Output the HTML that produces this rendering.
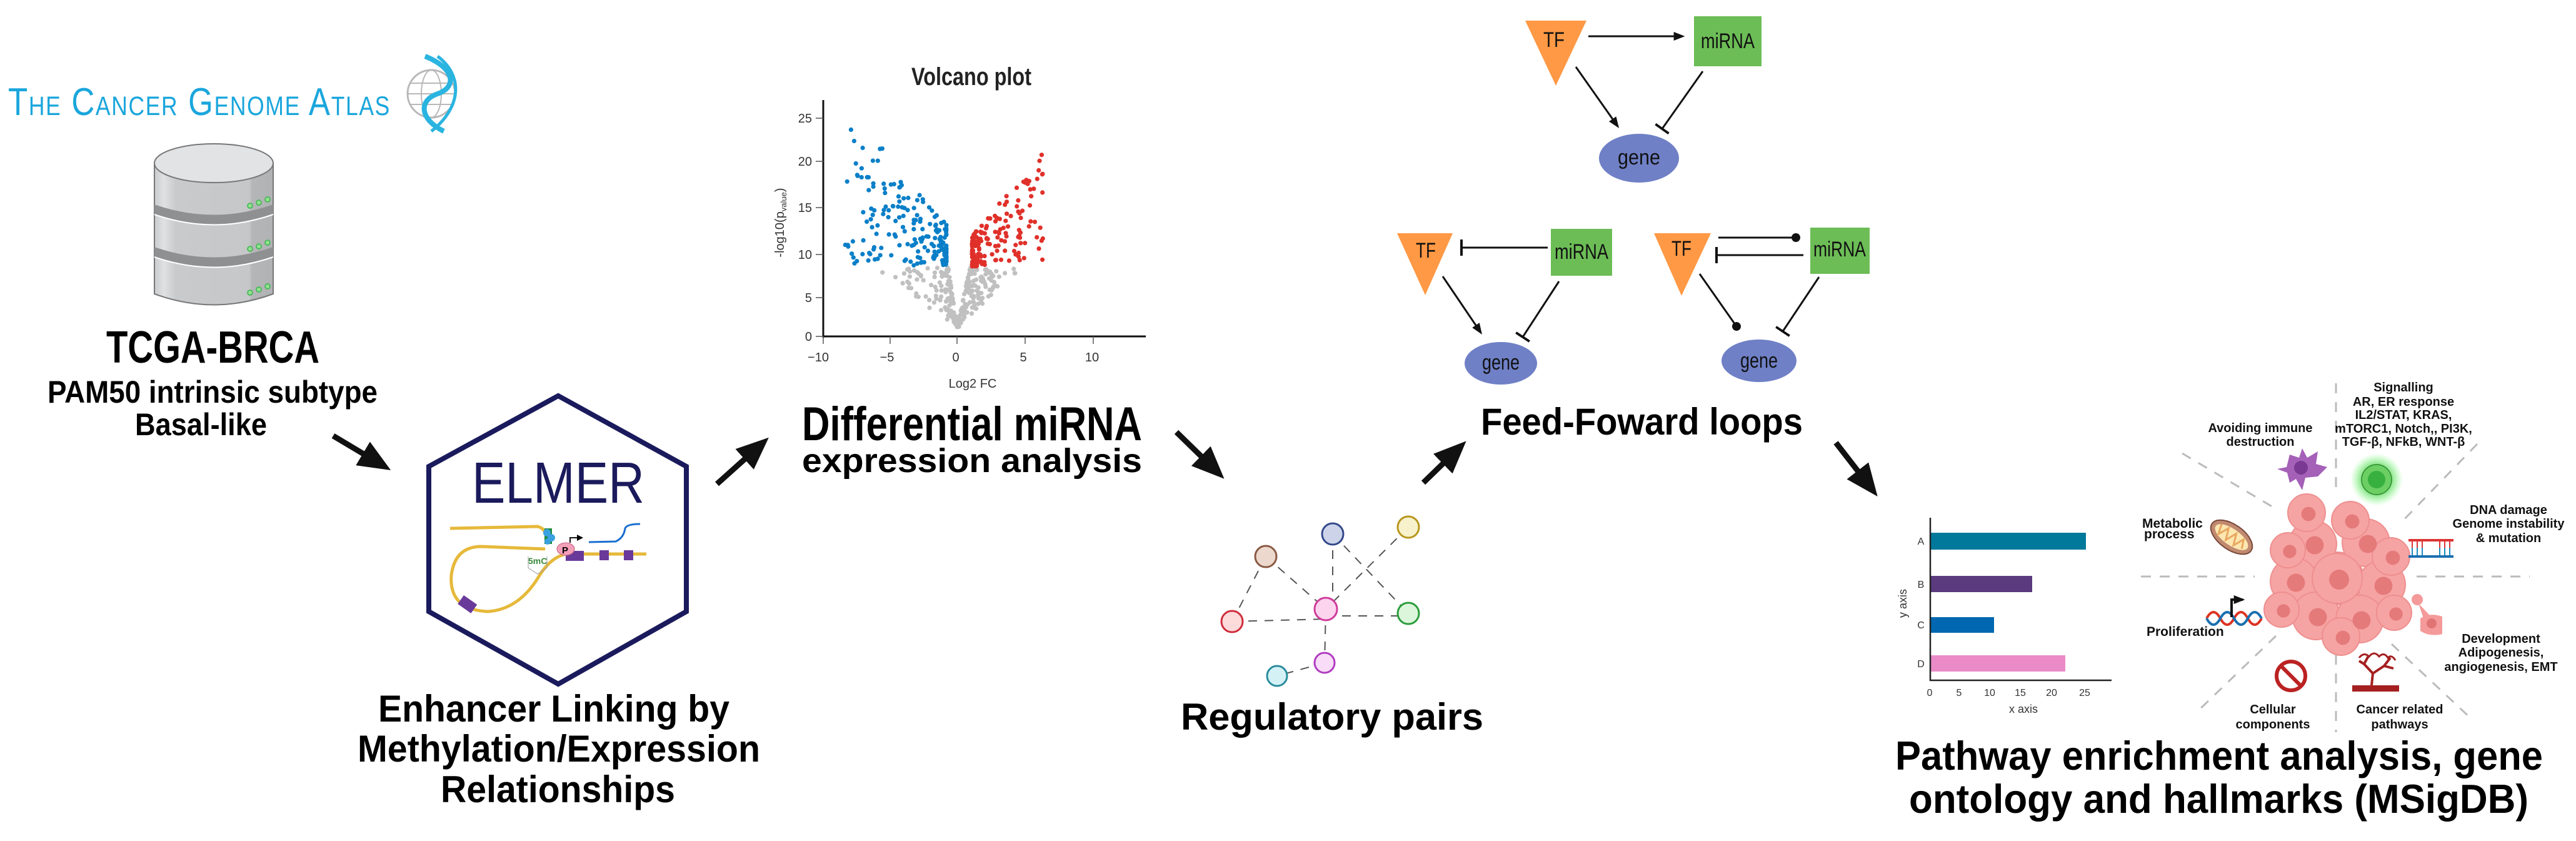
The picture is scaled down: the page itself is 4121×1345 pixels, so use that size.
<!DOCTYPE html>
<html><head><meta charset="utf-8"><style>
html,body{margin:0;padding:0;background:#fff;}
svg{display:block;}
text{font-family:"Liberation Sans",sans-serif;}
</style></head><body>
<svg id="s" width="4121" height="1345" viewBox="0 0 4121 1345" xmlns="http://www.w3.org/2000/svg">
<defs>
<marker id="ah" markerWidth="10" markerHeight="10" refX="2" refY="5" orient="auto" markerUnits="userSpaceOnUse" viewBox="0 0 10 10"><path d="M0,0 L10,5 L0,10 z" fill="#000"/></marker>
<marker id="big" viewBox="0 0 10 10" refX="1" refY="5" markerWidth="52" markerHeight="44" orient="auto" markerUnits="userSpaceOnUse" preserveAspectRatio="none"><path d="M0,0 L10,5 L0,10 z" fill="#111"/></marker>
<marker id="sm" viewBox="0 0 10 10" refX="8" refY="5" markerWidth="18" markerHeight="14" orient="auto" markerUnits="userSpaceOnUse" preserveAspectRatio="none"><path d="M0,0 L10,5 L0,10 z" fill="#111"/></marker>
<marker id="bar" viewBox="0 0 4 20" refX="2" refY="10" markerWidth="4" markerHeight="26" orient="auto" markerUnits="userSpaceOnUse" preserveAspectRatio="none"><rect x="0" y="0" width="4" height="20" fill="#111"/></marker>
<marker id="dot" viewBox="0 0 10 10" refX="5" refY="5" markerWidth="14" markerHeight="14" orient="auto" markerUnits="userSpaceOnUse"><circle cx="5" cy="5" r="5" fill="#111"/></marker>
<radialGradient id="glow"><stop offset="0.5" stop-color="#5fd35f" stop-opacity="0.9"/><stop offset="1" stop-color="#7fff7f" stop-opacity="0"/></radialGradient>
<linearGradient id="cyl" x1="0" x2="1"><stop offset="0" stop-color="#c9cbcd"/><stop offset="0.08" stop-color="#dfe1e3"/><stop offset="0.18" stop-color="#c8cacc"/><stop offset="0.8" stop-color="#c5c7c9"/><stop offset="0.82" stop-color="#b4b6b8"/><stop offset="1" stop-color="#b0b2b4"/></linearGradient>
</defs>

<!-- TCGA logo -->
<text x="13" y="184" font-family="Liberation Serif,serif" font-size="62" fill="#1aa6dc" textLength="612" lengthAdjust="spacingAndGlyphs" style="font-variant:small-caps;letter-spacing:2px">The Cancer Genome Atlas</text>
<g transform="translate(690,150)">
<circle cx="0" cy="0" r="38" fill="none" stroke="#b8b8b8" stroke-width="3"/>
<ellipse cx="0" cy="0" rx="16" ry="38" fill="none" stroke="#b8b8b8" stroke-width="2"/>
<line x1="-38" y1="0" x2="38" y2="0" stroke="#b8b8b8" stroke-width="2"/>
<line x1="-34" y1="-17" x2="34" y2="-17" stroke="#b8b8b8" stroke-width="2"/>
<line x1="-34" y1="17" x2="34" y2="17" stroke="#b8b8b8" stroke-width="2"/>
<path d="M-10,-60 C40,-40 40,-10 10,0 C-20,10 -20,40 20,60" fill="none" stroke="#2ab4e0" stroke-width="8"/>
<path d="M10,-60 C50,-30 50,20 0,60" fill="none" stroke="#2ab4e0" stroke-width="5"/>
</g>

<!-- database -->
<g>
<path d="M247,261 L247,470 Q342,505 437,470 L437,261 Z" fill="url(#cyl)" stroke="#777" stroke-width="2"/>
<path d="M247,327 Q342,360 437,327 L437,342 Q342,375 247,342 Z" fill="#8e9092"/>
<path d="M247,395 Q342,428 437,395 L437,410 Q342,443 247,410 Z" fill="#8e9092"/>
<path d="M247,343 Q342,376 437,343" fill="none" stroke="#fff" stroke-width="2"/>
<path d="M247,411 Q342,444 437,411" fill="none" stroke="#fff" stroke-width="2"/>
<ellipse cx="342" cy="261" rx="95" ry="31" fill="#e1e3e5" stroke="#777" stroke-width="2"/>
<g fill="#8fe08f" stroke="#3cb34a" stroke-width="1.5">
<circle cx="400" cy="329" r="4"/><circle cx="414" cy="324" r="4"/><circle cx="428" cy="319" r="4"/>
<circle cx="400" cy="398" r="4"/><circle cx="414" cy="394" r="4"/><circle cx="428" cy="388" r="4"/>
<circle cx="400" cy="468" r="4"/><circle cx="414" cy="463" r="4"/><circle cx="428" cy="458" r="4"/>
</g>
</g>
<text x="170" y="580" font-size="72" font-weight="bold" textLength="341" lengthAdjust="spacingAndGlyphs">TCGA-BRCA</text>
<text x="76" y="644" font-size="50" font-weight="bold" textLength="528" lengthAdjust="spacingAndGlyphs">PAM50 intrinsic subtype</text>
<text x="216" y="696" font-size="50" font-weight="bold" textLength="211" lengthAdjust="spacingAndGlyphs">Basal-like</text>

<!-- big arrows -->
<g stroke="#111" stroke-width="9" marker-end="url(#big)">
<line x1="533" y1="697" x2="585" y2="728"/>
<line x1="1147" y1="774" x2="1195" y2="731"/>
<line x1="1882" y1="691" x2="1925" y2="733"/>
<line x1="2277" y1="772" x2="2312" y2="738"/>
<line x1="2937" y1="708" x2="2975" y2="757"/>
</g>

<!-- ELMER hexagon -->
<polygon points="893,633 1098,746 1098,978 893,1094 686,978 686,746" fill="#fff" stroke="#1a1a5c" stroke-width="8"/>
<text x="755" y="804" font-size="93" fill="#1b1a5c" textLength="276" lengthAdjust="spacingAndGlyphs">ELMER</text>
<g fill="none" stroke="#e6b93a" stroke-width="5">
<path d="M720,845 L860,842 Q872,845 874,858"/>
<path d="M872,878 L770,874 Q728,874 722,920 Q718,975 780,978 Q830,975 862,922 Q880,892 905,886 L1034,886"/>
</g>
<rect x="735" y="958" width="26" height="17" fill="#6a3a9a" transform="rotate(35 748 966)"/>
<rect x="905" y="881" width="29" height="16" fill="#6a3a9a"/>
<rect x="959" y="880" width="15" height="16" fill="#6a3a9a"/>
<rect x="998" y="880" width="15" height="16" fill="#6a3a9a"/>
<path d="M942,867 L985,866 Q998,860 1000,845 Q1003,838 1024,838" fill="none" stroke="#1a6fd0" stroke-width="3"/>
<ellipse cx="905" cy="878" rx="14" ry="10" fill="#f5a0b8" stroke="#c06080" stroke-width="1"/>
<text x="899" y="885" font-size="15" font-weight="bold">P</text>
<path d="M912,868 L912,860 L925,860" fill="none" stroke="#111" stroke-width="2" marker-end="url(#ah)"/>
<rect x="871" y="845" width="12" height="25" fill="#1a8a3a"/>
<circle cx="875" cy="852" r="6" fill="#3aa0e0"/><circle cx="882" cy="860" r="6" fill="#3aa0e0"/><circle cx="876" cy="866" r="5" fill="#3aa0e0"/>
<text x="845" y="902" font-size="14" font-weight="bold" fill="#3a8a3a">5mC</text>
<path d="M845,890 L845,908 L860,918 L875,908 L875,890" fill="none" stroke="#999" stroke-width="1"/>

<text x="605" y="1154" font-size="60" font-weight="bold" textLength="562" lengthAdjust="spacingAndGlyphs">Enhancer Linking by</text>
<text x="572" y="1218" font-size="60" font-weight="bold" textLength="644" lengthAdjust="spacingAndGlyphs">Methylation/Expression</text>
<text x="705" y="1283" font-size="60" font-weight="bold" textLength="375" lengthAdjust="spacingAndGlyphs">Relationships</text>

<!-- Volcano -->
<text x="1458" y="136" font-size="40" font-weight="bold" fill="#222" textLength="192" lengthAdjust="spacingAndGlyphs">Volcano plot</text>
<g id="vol"></g>
<g stroke="#111">
<line x1="1317" y1="160" x2="1317" y2="540" stroke-width="3"/>
<line x1="1316" y1="538" x2="1833" y2="538" stroke-width="3"/>
</g>
<g stroke="#555" stroke-width="1.5">
<line x1="1305" y1="189" x2="1317" y2="189"/><line x1="1305" y1="258" x2="1317" y2="258"/><line x1="1305" y1="332" x2="1317" y2="332"/><line x1="1305" y1="407" x2="1317" y2="407"/><line x1="1305" y1="476" x2="1317" y2="476"/><line x1="1305" y1="538" x2="1317" y2="538"/>
<line x1="1317" y1="538" x2="1317" y2="550"/><line x1="1424" y1="538" x2="1424" y2="550"/><line x1="1531" y1="538" x2="1531" y2="550"/><line x1="1640" y1="538" x2="1640" y2="550"/><line x1="1749" y1="538" x2="1749" y2="550"/>
</g>
<g font-size="20" fill="#333" text-anchor="end">
<text x="1299" y="196">25</text><text x="1299" y="265">20</text><text x="1299" y="339">15</text><text x="1299" y="414">10</text><text x="1299" y="483">5</text><text x="1299" y="545">0</text>
</g>
<g font-size="20" fill="#333" text-anchor="middle">
<text x="1309" y="578">−10</text><text x="1419" y="578">−5</text><text x="1529" y="578">0</text><text x="1637" y="578">5</text><text x="1747" y="578">10</text>
<text x="1556" y="620">Log2 FC</text>
<text transform="translate(1254,356) rotate(-90)" font-size="20">-log10(p<tspan font-size="13" dy="4">value</tspan><tspan dy="-4">)</tspan></text>
</g>
<text x="1283" y="704" font-size="76" font-weight="bold" textLength="544" lengthAdjust="spacingAndGlyphs">Differential miRNA</text>
<text x="1283" y="755" font-size="54" font-weight="bold" textLength="544" lengthAdjust="spacingAndGlyphs">expression analysis</text>

<!-- network -->
<g stroke="#555" stroke-width="2" stroke-dasharray="14,12" fill="none">
<line x1="2025" y1="890" x2="1971" y2="994"/>
<line x1="2025" y1="890" x2="2121" y2="974"/>
<line x1="1971" y1="994" x2="2121" y2="990"/>
<line x1="2121" y1="985" x2="2253" y2="985"/>
<line x1="2132" y1="854" x2="2132" y2="960"/>
<line x1="2132" y1="854" x2="2253" y2="981"/>
<line x1="2253" y1="843" x2="2121" y2="974"/>
<line x1="2121" y1="974" x2="2119" y2="1060"/>
<line x1="2119" y1="1060" x2="2043" y2="1081"/>
</g>
<g stroke-width="3">
<circle cx="2025" cy="890" r="17" fill="#ecd8cc" stroke="#8a5a44"/>
<circle cx="2132" cy="854" r="17" fill="#cdd4ea" stroke="#34498a"/>
<circle cx="2253" cy="843" r="17" fill="#f7f2cc" stroke="#b8961c"/>
<circle cx="1971" cy="994" r="17" fill="#fcdada" stroke="#d02c3c"/>
<circle cx="2121" cy="974" r="18" fill="#fdd4ee" stroke="#d03c9c"/>
<circle cx="2253" cy="981" r="17" fill="#dcf6dc" stroke="#2c9c3c"/>
<circle cx="2119" cy="1060" r="16" fill="#f8dcf8" stroke="#b03cc0"/>
<circle cx="2043" cy="1081" r="16" fill="#d4f2f6" stroke="#2a8c9c"/>
</g>
<text x="1889" y="1167" font-size="60" font-weight="bold" textLength="484" lengthAdjust="spacingAndGlyphs">Regulatory pairs</text>

<!-- FFL -->
<g font-size="34" fill="#111" text-anchor="middle">
<polygon points="2440,33 2538,33 2489,137" fill="#ff9945"/>
<text x="2486" y="75" textLength="34" lengthAdjust="spacingAndGlyphs">TF</text>
<rect x="2710" y="26" width="108" height="80" fill="#6cbd56"/>
<text x="2764" y="77" textLength="86" lengthAdjust="spacingAndGlyphs">miRNA</text>
<ellipse cx="2622" cy="253" rx="64" ry="39" fill="#6f80c6"/>
<text x="2622" y="263" textLength="68" lengthAdjust="spacingAndGlyphs">gene</text>

<polygon points="2235,373 2324,373 2280,472" fill="#ff9945"/>
<text x="2281" y="412" textLength="32" lengthAdjust="spacingAndGlyphs">TF</text>
<rect x="2481" y="366" width="98" height="75" fill="#6cbd56"/>
<text x="2530" y="414" textLength="86" lengthAdjust="spacingAndGlyphs">miRNA</text>
<ellipse cx="2401" cy="581" rx="58" ry="34" fill="#6f80c6"/>
<text x="2401" y="591" textLength="60" lengthAdjust="spacingAndGlyphs">gene</text>

<polygon points="2646,373 2737,373 2690,473" fill="#ff9945"/>
<text x="2690" y="409" textLength="32" lengthAdjust="spacingAndGlyphs">TF</text>
<rect x="2896" y="364" width="95" height="74" fill="#6cbd56"/>
<text x="2943" y="410" textLength="84" lengthAdjust="spacingAndGlyphs">miRNA</text>
<ellipse cx="2814" cy="577" rx="60" ry="34" fill="#6f80c6"/>
<text x="2814" y="588" textLength="60" lengthAdjust="spacingAndGlyphs">gene</text>
</g>
<g stroke="#111" stroke-width="3" fill="none">
<line x1="2541" y1="58" x2="2692" y2="58" marker-end="url(#sm)"/>
<line x1="2521" y1="107" x2="2588" y2="202" marker-end="url(#sm)"/>
<line x1="2724" y1="114" x2="2659" y2="206" marker-end="url(#bar)"/>
<line x1="2476" y1="396" x2="2338" y2="396" marker-end="url(#bar)"/>
<line x1="2308" y1="442" x2="2369" y2="532" marker-end="url(#sm)"/>
<line x1="2494" y1="450" x2="2436" y2="539" marker-end="url(#bar)"/>
<line x1="2749" y1="380" x2="2873" y2="380" marker-end="url(#dot)"/>
<line x1="2885" y1="408" x2="2746" y2="408" marker-end="url(#bar)"/>
<line x1="2719" y1="438" x2="2778" y2="522" marker-end="url(#dot)"/>
<line x1="2910" y1="443" x2="2852" y2="530" marker-end="url(#bar)"/>
</g>
<text x="2369" y="695" font-size="60" font-weight="bold" textLength="515" lengthAdjust="spacingAndGlyphs">Feed-Foward loops</text>

<!-- bar chart -->
<rect x="3088" y="852" width="249" height="27" fill="#00799a"/>
<rect x="3088" y="921" width="163" height="26" fill="#5b3a7e"/>
<rect x="3088" y="987" width="102" height="25" fill="#0067b0"/>
<rect x="3088" y="1048" width="216" height="26" fill="#ea8bc8"/>
<g stroke="#222" stroke-width="2.5"><line x1="3088" y1="828" x2="3088" y2="1089"/><line x1="3087" y1="1088" x2="3378" y2="1088"/></g>
<g font-size="16" fill="#333" text-anchor="middle">
<text x="3073" y="871">A</text><text x="3073" y="940">B</text><text x="3073" y="1005">C</text><text x="3073" y="1067">D</text>
<text x="3087" y="1113">0</text><text x="3134" y="1113">5</text><text x="3183" y="1113">10</text><text x="3232" y="1113">15</text><text x="3282" y="1113">20</text><text x="3335" y="1113">25</text>
<text x="3237" y="1140" font-size="18">x axis</text>
<text transform="translate(3050,965) rotate(-90)" font-size="18">y axis</text>
</g>

<!-- hallmarks -->
<g stroke="#bbb" stroke-width="3" stroke-dasharray="16,14">
<line x1="3737" y1="613" x2="3737" y2="789"/>
<line x1="3737" y1="1047" x2="3737" y2="1171"/>
<line x1="3425" y1="922" x2="3607" y2="922"/>
<line x1="3866" y1="922" x2="4047" y2="922"/>
<line x1="3491" y1="725" x2="3643" y2="815"/>
<line x1="3963" y1="710" x2="3840" y2="837"/>
<line x1="3641" y1="1017" x2="3512" y2="1141"/>
<line x1="3826" y1="1030" x2="3954" y2="1150"/>
</g>
<g id="cluster"></g>
<!-- icons -->
<g transform="translate(3683,752)">
<path d="M-25,-5 L-40,-2 L-24,4 L-20,20 L-10,14 L0,32 L5,12 L25,10 L40,-5 L22,-10 L25,-30 L8,-20 L0,-35 L-5,-20 L-20,-25 Z" fill="#a560b8"/>
<circle cx="-2" cy="-4" r="11" fill="#7a3a94"/>
</g>
<circle cx="3802" cy="767" r="42" fill="url(#glow)"/>
<circle cx="3802" cy="767" r="24" fill="#6bcf63" stroke="#2a8a2a" stroke-width="1.5"/>
<circle cx="3802" cy="767" r="14" fill="#38b040"/>
<g transform="translate(3570,859) rotate(35)">
<ellipse rx="38" ry="20" fill="#c08a70" stroke="#7a4a3a" stroke-width="2"/>
<ellipse rx="31" ry="13" fill="#fde6b0"/>
<path d="M-25,-8 L-20,8 L-12,-9 L-5,9 L3,-9 L10,9 L18,-8 L24,6" fill="none" stroke="#e8a860" stroke-width="3"/>
</g>
<g transform="translate(3889,876)">
<rect x="-36" y="-14" width="72" height="4" fill="#d33"/><rect x="-36" y="12" width="72" height="4" fill="#1a6fb0"/>
<g stroke="#d33" stroke-width="2"><line x1="-30" y1="-10" x2="-30" y2="0"/><line x1="-22" y1="-10" x2="-22" y2="0"/><line x1="-14" y1="-10" x2="-14" y2="0"/><line x1="14" y1="-10" x2="14" y2="0"/><line x1="22" y1="-10" x2="22" y2="0"/><line x1="30" y1="-10" x2="30" y2="0"/></g>
<g stroke="#1a8ac0" stroke-width="2"><line x1="-30" y1="0" x2="-30" y2="12"/><line x1="-22" y1="0" x2="-22" y2="12"/><line x1="-14" y1="0" x2="-14" y2="12"/><line x1="14" y1="0" x2="14" y2="12"/><line x1="22" y1="0" x2="22" y2="12"/><line x1="30" y1="0" x2="30" y2="12"/></g>
</g>
<g transform="translate(3574,989)">
<path d="M-44,0 Q-33,-20 -22,0 T0,0 T22,0 T44,0" fill="none" stroke="#d32" stroke-width="4"/>
<path d="M-44,0 Q-33,20 -22,0 T0,0 T22,0 T44,0" fill="none" stroke="#1a6fb0" stroke-width="4"/>
<path d="M-4,-2 L-4,-30 L14,-30" fill="none" stroke="#111" stroke-width="4" marker-end="url(#sm)"/>
</g>
<g transform="translate(3887,989)" fill="#f49a9a">
<circle cx="-20" cy="-30" r="9"/><path d="M-18,-24 L0,-5 L-10,0 Z"/>
<path d="M-15,0 Q0,-10 20,-3 L20,25 Q0,30 -15,20 Z"/>
<circle cx="3" cy="8" r="8" fill="#e07474"/>
</g>
<circle cx="3665" cy="1081" r="23" fill="none" stroke="#b22" stroke-width="6"/>
<line x1="3649" y1="1065" x2="3681" y2="1097" stroke="#b22" stroke-width="6"/>
<g transform="translate(3804,1077)">
<rect x="-41" y="19" width="75" height="10" fill="#a52020"/>
<path d="M-10,19 L-8,0 L-22,-15 M-8,0 L10,-12 L20,-25 M10,-12 L25,-8 M-22,-15 L-15,-28 M-22,-15 L-30,-20" fill="none" stroke="#a52020" stroke-width="4"/>
<path d="M-30,-25 q8,-10 16,-2 q8,-10 16,0 q8,-8 14,2 q6,-6 12,4" fill="none" stroke="#a52020" stroke-width="3"/>
</g>
<g font-size="20" font-weight="bold" fill="#111" text-anchor="middle">
<text x="3845" y="626">Signalling</text>
<text x="3845" y="649">AR, ER response</text>
<text x="3845" y="670">IL2/STAT, KRAS,</text>
<text x="3845" y="692">mTORC1, Notch,, PI3K,</text>
<text x="3845" y="713">TGF-β, NFkB, WNT-β</text>
<text x="3616" y="691">Avoiding immune</text>
<text x="3616" y="713">destruction</text>
<text x="4013" y="822">DNA damage</text>
<text x="4013" y="844">Genome instability</text>
<text x="4013" y="867">&amp; mutation</text>
<text x="4001" y="1028">Development</text>
<text x="4001" y="1050">Adipogenesis,</text>
<text x="4001" y="1073">angiogenesis, EMT</text>
<text x="3636" y="1141">Cellular</text>
<text x="3636" y="1165">components</text>
<text x="3839" y="1141">Cancer related</text>
<text x="3839" y="1165">pathways</text>
</g>
<g font-size="21" font-weight="bold" fill="#111">
<text x="3427" y="844">Metabolic</text>
<text x="3430" y="861">process</text>
<text x="3434" y="1017">Proliferation</text>
</g>
<text x="3032" y="1231" font-size="65" font-weight="bold" textLength="1036" lengthAdjust="spacingAndGlyphs">Pathway enrichment analysis, gene</text>
<text x="3054" y="1300" font-size="65" font-weight="bold" textLength="991" lengthAdjust="spacingAndGlyphs">ontology and hallmarks (MSigDB)</text>
</svg>
<script>
(function(){
var seed=7;function r(){seed=(seed*16807)%2147483647;return (seed-1)/2147483646;}
var NS="http://www.w3.org/2000/svg";
var g=document.getElementById("vol");
function dot(x,y,c){var e=document.createElementNS(NS,"circle");e.setAttribute("cx",x.toFixed(1));e.setAttribute("cy",y.toFixed(1));e.setAttribute("r","3.6");e.setAttribute("fill",c);g.appendChild(e);}
var i,t,x,y,s;
for(i=0;i<260;i++){t=Math.pow(r(),0.8);s=r()<0.5?-1:1;
 var inner=s<0?14*t:21*t;var outer=s<0?138*t:104*t;if(outer<inner+4)outer=inner+4;
 x=1531+s*(inner+(outer-inner)*Math.pow(r(),2.2));y=523-95*t;dot(x,y,"#c0c0c0");}
for(i=0;i<190;i++){var u=Math.pow(r(),2.2);x=1517-3-164*u;y=426-(60+200*u)*Math.pow(r(),1.3)-10*r();if(y<167)y=167+r()*20;dot(x,y,"#0a7fc8");}
for(i=0;i<170;i++){var u=Math.pow(r(),2.2);x=1555+118*u;y=426-(50+140*u)*Math.pow(r(),1.3);if(y<233)y=233+r()*20;dot(x,y,"#e0302a");}
var c=document.getElementById("cluster");
var cells=[[3739,925,42],[3700,870,38],[3785,868,38],[3670,930,38],[3810,935,38],[3705,985,38],[3775,990,38],[3745,1018,30],[3690,820,30],[3760,832,30],[3660,880,28],[3825,890,30],[3650,975,28],[3830,980,28],[3739,925,40]];
cells.forEach(function(p){var e=document.createElementNS(NS,"circle");e.setAttribute("cx",p[0]);e.setAttribute("cy",p[1]);e.setAttribute("r",p[2]);e.setAttribute("fill","#f6a3a3");e.setAttribute("stroke","#ee8f8f");e.setAttribute("stroke-width","2");c.appendChild(e);});
cells.forEach(function(p){var e=document.createElementNS(NS,"circle");e.setAttribute("cx",p[0]+3);e.setAttribute("cy",p[1]+2);e.setAttribute("r",p[2]*0.38);e.setAttribute("fill","#e57a7a");c.appendChild(e);});
})();
</script>
</body></html>
